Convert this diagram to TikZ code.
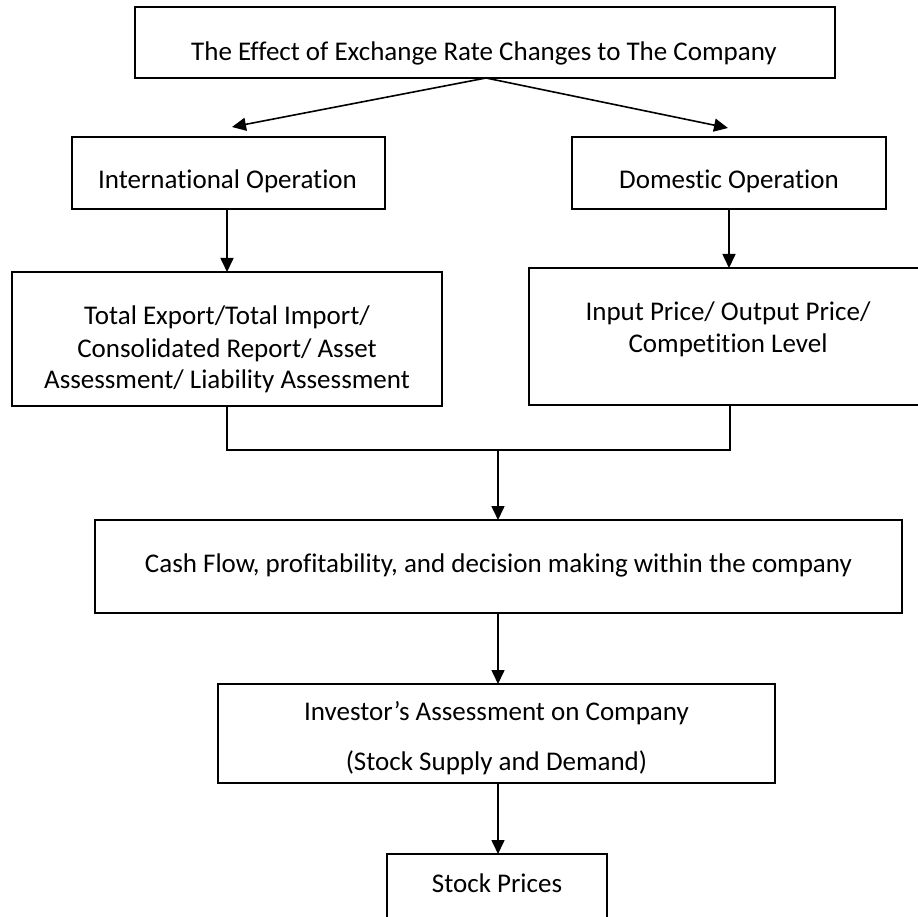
\documentclass[tikz,border=0pt]{standalone}
\usepackage{fontspec}
\setmainfont{Carlito}[Ligatures=NoCommon]
\usetikzlibrary{arrows.meta}
\begin{document}
\begin{tikzpicture}[x=1pt,y=-1pt,
  box/.style={draw, line width=1.6pt, rectangle, inner sep=0pt, outer sep=0pt},
  txt/.style={anchor=base, inner sep=0pt, font=\fontsize{27}{32}\selectfont},
  conn/.style={line width=1.6pt},
  arr/.style={conn, -{Triangle[length=14pt,width=13pt]}}]
\useasboundingbox (0,0) rectangle (918,917);
\clip (0,0) rectangle (918,917);
\fill[white] (0,0) rectangle (918,917);
% boxes
\node[box, minimum width=700pt, minimum height=71pt] (top) at (485,42.5) {};
\node[box, minimum width=313pt, minimum height=72pt] (intl) at (228.5,173) {};
\node[box, minimum width=314pt, minimum height=72pt] (dom) at (729,173) {};
\node[box, minimum width=430pt, minimum height=134pt] (lbox) at (227,339) {};
\node[box, minimum width=400pt, minimum height=137pt] (rbox) at (729,336.5) {};
\node[box, minimum width=807pt, minimum height=93pt] (cash) at (498.5,566.5) {};
\node[box, minimum width=557pt, minimum height=99pt] (inv) at (496.5,733.5) {};
\node[box, minimum width=220pt, minimum height=90pt] (stock) at (497,899) {};
% texts
\node[txt] (ttop) at (484,61) {The Effect of Exchange Rate Changes to The Company};
\node[txt] (tintl) at (227.5,189) {International Operation};
\node[txt] (tdom) at (729,189) {Domestic Operation};
\node[txt] (tl1) at (227,324) {Total Export/Total Import/};
\node[txt] (tl2) at (227,357) {Consolidated Report/ Asset};
\node[txt] (tl3) at (227,388) {Assessment/ Liability Assessment};
\node[txt] (tr1) at (728,320) {Input Price/ Output Price/};
\node[txt] (tr2) at (728,352) {Competition Level};
\node[txt] (tcash) at (498.5,572) {Cash Flow, profitability, and decision making within the company};
\node[txt] (tinv1) at (496.5,720) {Investor’s Assessment on Company};
\node[txt] (tinv2) at (496.5,770) {(Stock Supply and Demand)};
\node[txt] (tstock) at (497,892) {Stock Prices};
% connectors
\coordinate (tipL) at (232,127);
\coordinate (tipR) at (728,128);
\coordinate (src) at (486,78);
\draw[arr] (src) -- (tipL);
\draw[arr] (src) -- (tipR);
\draw[arr] (lbox.north |- intl.south) -- (lbox.north);
\draw[arr] (dom.south) -- (dom.south |- rbox.north);
\coordinate (mL) at (227,450);
\coordinate (mR) at (730,450);
\coordinate (mM) at (498,450);
\draw[conn] (lbox.south) -- (mL) -- (mR) -- (mR |- rbox.south);
\draw[arr] (mM) -- (mM |- cash.north);
\draw[arr] (mM |- cash.south) -- (mM |- inv.north);
\draw[arr] (mM |- inv.south) -- (mM |- stock.north);
\end{tikzpicture}
\end{document}
